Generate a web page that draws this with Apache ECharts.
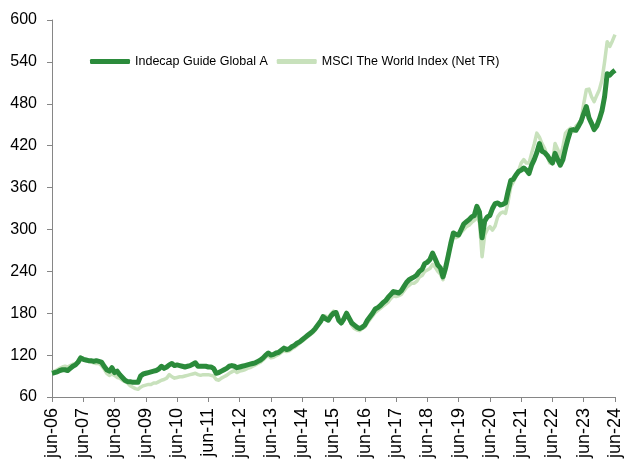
<!DOCTYPE html>
<html>
<head>
<meta charset="utf-8">
<script src="https://cdn.jsdelivr.net/npm/echarts@6/dist/echarts.min.js"></script>
<style>html,body{margin:0;padding:0;background:#fff}#c{width:625px;height:463px}</style>
</head>
<body>
<div id="c"></div>
<script>
// Month labels, jun-06 .. jun-24 (monthly)
const monthNames = ['jan','feb','mar','apr','maj','jun','jul','aug','sep','okt','nov','dec'];
const startYear = 2006, startMonth = 5, monthCount = 217;
const categories = [];
for (let i = 0; i < monthCount; i++) {
  const mi = startMonth + i;
  const y = startYear + Math.floor(mi / 12);
  categories.push(monthNames[mi % 12] + '-' + String(y % 100).padStart(2, '0'));
}

const seriesNames = ['Indecap Guide Global A', 'MSCI The World Index (Net TR)'];

// Indecap Guide Global A
const indecap = [
  94, 95, 96, 98, 99, 99, 98, 101, 104, 106, 110, 116,
  114, 113, 112, 112, 111, 112, 111, 110, 104, 99, 97, 102,
  95, 97, 92, 88, 84, 82, 82, 81, 81, 81, 90, 93,
  94, 95, 96, 97, 98, 100, 104, 101, 103, 106, 108, 105,
  106, 105, 104, 103, 104, 105, 107, 109, 104, 104, 104, 104,
  103, 103, 101, 94, 95, 97, 99, 101, 104, 105, 104, 102,
  103, 104, 105, 106, 107, 108, 109, 111, 113, 116, 120, 123,
  120, 121, 123, 124, 127, 130, 128, 129, 132, 134, 137, 139,
  142, 145, 148, 151, 154, 158, 163, 168, 175, 172, 170, 176,
  180, 181, 170, 166, 172, 180, 173, 166, 163, 160, 158, 160,
  163, 170, 175, 180, 186, 188, 191, 195, 198, 203, 207, 211,
  210, 209, 212, 218, 224, 228, 230, 232, 235, 240, 243, 251,
  253, 257, 266, 258, 249, 245, 232, 245, 262, 280, 295, 293,
  292, 300, 308, 311, 314, 318, 320, 333, 325, 288, 312, 318,
  320, 330, 337, 338, 335, 336, 338, 355, 370, 372, 378, 383,
  385, 388, 385, 380, 392, 400, 410, 423, 412, 410, 406, 400,
  395, 409, 400, 392, 400, 416, 430, 442, 443, 442, 448, 455,
  466, 476, 460, 452, 443, 448, 458, 470, 490, 523, 521, 525,
  528
];

// MSCI The World Index (Net TR)
const msci = [
  96, 97, 99, 101, 103, 104, 103, 105, 107, 108, 111, 117,
  115, 113, 111, 110, 109, 108, 108, 105, 100, 94, 91, 93,
  91, 88, 87, 84, 82, 80, 76, 74, 72, 71, 74, 76,
  77, 78, 78, 80, 80, 82, 84, 85, 87, 92, 89, 87,
  88, 89, 89, 90, 91, 92, 93, 94, 92, 91, 92, 92,
  92, 91, 90, 85, 84, 87, 89, 91, 94, 96, 98, 95,
  97, 98, 99, 101, 102, 104, 106, 108, 110, 113, 117, 119,
  116, 117, 119, 121, 124, 126, 125, 126, 129, 131, 134, 137,
  140, 143, 146, 149, 152, 156, 162, 168, 176, 176, 173, 179,
  183, 179, 170, 166, 173, 180, 171, 163, 158, 156, 155, 158,
  160, 166, 171, 176, 181, 184, 187, 190, 193, 196, 201, 205,
  204, 205, 207, 212, 217, 220, 223, 223, 226, 232, 234, 240,
  242, 244, 250, 246, 240, 236, 228, 240, 266, 276, 290, 288,
  290, 296, 300, 304, 306, 310, 313, 318, 310, 261, 292, 300,
  304, 299, 305, 318, 323, 325, 323, 340, 361, 368, 376, 384,
  395, 400, 395, 395, 409, 422, 438, 432, 423, 416, 405, 395,
  395, 423, 415, 404, 418, 438, 442, 445, 440, 448, 452, 457,
  480, 500, 501, 490, 483, 492, 500, 514, 540, 569, 562, 570,
  579
];

const yTicks = { min: 60, max: 600, step: 60 };

const font = "'Liberation Sans', Arial, sans-serif";
const axisGray = '#868686';
const darkGreen = '#2B8B3B';
const lightGreen = '#C8E1BC';

const chart = echarts.init(document.getElementById('c'), null, { renderer: 'canvas' });
chart.setOption({
  animation: false,
  backgroundColor: '#ffffff',
  grid: { left: 52, right: 10, top: 20, bottom: 66, containLabel: false },
  legend: {
    left: 90, top: 55, padding: 0,
    itemWidth: 40, itemHeight: 5, itemGap: 9,
    icon: 'roundRect',
    textStyle: { fontFamily: font, fontSize: 12.5, color: '#000' },
    data: seriesNames
  },
  xAxis: {
    type: 'category',
    data: categories,
    boundaryGap: false,
    axisLine: { lineStyle: { color: axisGray, width: 1 } },
    axisTick: { show: true, length: 5, interval: (i) => i % 12 === 0, lineStyle: { color: axisGray } },
    axisLabel: {
      interval: (i) => i % 12 === 0,
      rotate: 90, margin: 11,
      fontFamily: font, fontSize: 18, color: '#000'
    },
    splitLine: { show: false }
  },
  yAxis: {
    type: 'value',
    min: yTicks.min, max: yTicks.max, interval: yTicks.step,
    axisLine: { show: true, lineStyle: { color: axisGray, width: 1 } },
    axisTick: { show: true, length: 5, lineStyle: { color: axisGray } },
    axisLabel: { margin: 15, fontFamily: font, fontSize: 16, color: '#000' },
    splitLine: { show: false }
  },
  series: [
    {
      name: seriesNames[0], type: 'line', data: indecap,
      showSymbol: false, symbol: 'none', z: 3,
      lineStyle: { color: darkGreen, width: 5, join: 'round' },
      itemStyle: { color: darkGreen }
    },
    {
      name: seriesNames[1], type: 'line', data: msci,
      showSymbol: false, symbol: 'none', z: 2,
      lineStyle: { color: lightGreen, width: 3.5, join: 'round' },
      itemStyle: { color: lightGreen }
    }
  ]
});
</script>
</body>
</html>
